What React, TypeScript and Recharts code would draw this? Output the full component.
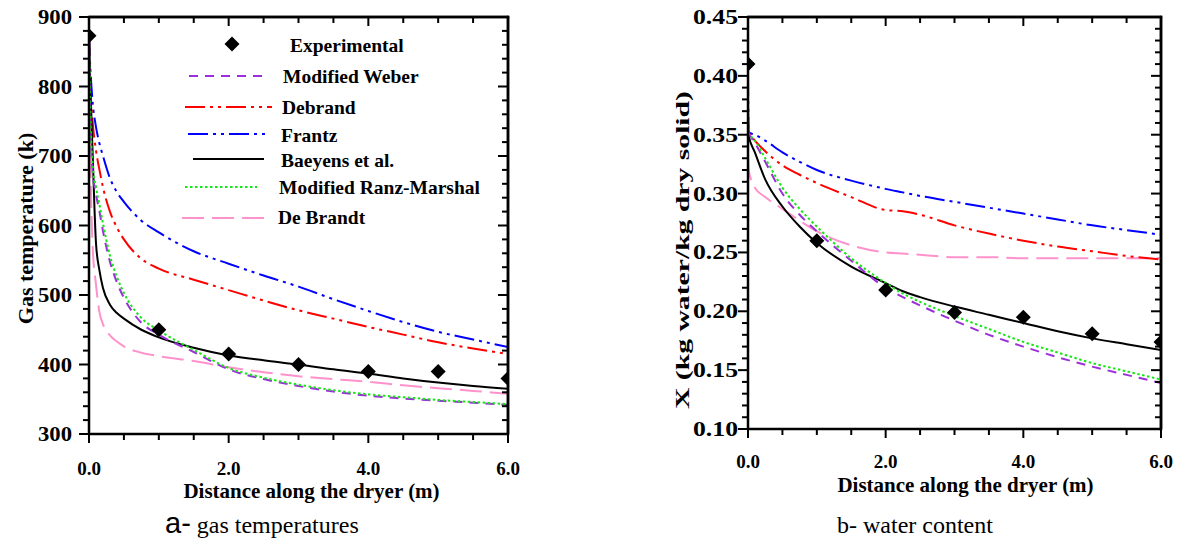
import React from 'react';
import { ComposedChart, Line, Scatter, XAxis, YAxis, Legend, Label } from 'recharts';

const SERIF = '"Liberation Serif", "Times New Roman", Times, serif';
const SANS = '"Liberation Sans", Arial, sans-serif';

// ---------- Panel a: gas temperature (K) ----------
const gasDistance = [0, 0.02, 0.05, 0.1, 0.15, 0.2, 0.3, 0.4, 0.5, 0.75, 1, 1.5, 2, 2.5, 3, 3.5, 4, 4.5, 5, 5.5, 6];
const gasWeber = [873, 750, 680, 645, 620, 592, 548, 518, 496, 460, 443, 418, 393, 379, 369, 361, 355, 351, 348, 345, 342];
const gasDebrand = [873, 800, 752, 708, 680, 655, 620, 597, 580, 552, 538, 522, 507, 492, 478, 466, 454, 443, 432, 423, 415];
const gasFrantz = [873, 825, 780, 742, 718, 700, 668, 648, 634, 607, 590, 563, 545, 528, 512, 494, 477, 461, 447, 436, 425];
const gasBaeyens = [873, 800, 710, 575, 535, 510, 486, 474, 466, 450, 439, 424, 413, 406, 400, 393, 387, 380, 374, 369, 365];
const gasRanz = [873, 760, 690, 655, 630, 603, 557, 526, 503, 467, 449, 421, 395, 381, 371, 363, 357, 353, 349, 346, 343];
const gasBrandt = [873, 700, 575, 515, 475, 458, 442, 433, 426, 417, 412, 405, 396, 389, 383, 379, 375, 370, 366, 362, 358];

const expDistance = [0, 1, 2, 3, 4, 5, 6];
const gasExperimental = [873, 450, 415, 400, 390, 390, 380];

// ---------- Panel b: water content X (kg water / kg dry solid) ----------
const waterDistance = [0, 0.01, 0.1, 0.25, 0.5, 0.75, 1, 1.5, 2, 2.25, 2.5, 3, 3.5, 4, 4.5, 5, 5.5, 6];
const waterWeber = [0.352, 0.351, 0.343, 0.327, 0.300, 0.282, 0.268, 0.243, 0.220, 0.212, 0.205, 0.192, 0.180, 0.170, 0.161, 0.153, 0.146, 0.139];
const waterDebrand = [0.38, 0.352, 0.345, 0.336, 0.324, 0.316, 0.309, 0.297, 0.286, 0.285, 0.282, 0.273, 0.266, 0.260, 0.255, 0.251, 0.247, 0.244];
const waterFrantz = [0.40, 0.352, 0.350, 0.345, 0.335, 0.327, 0.320, 0.311, 0.304, 0.301, 0.298, 0.293, 0.288, 0.283, 0.278, 0.273, 0.269, 0.265];
const waterBaeyens = [0.352, 0.349, 0.335, 0.312, 0.289, 0.272, 0.258, 0.238, 0.224, 0.217, 0.212, 0.204, 0.197, 0.190, 0.183, 0.177, 0.172, 0.167];
const waterRanz = [0.352, 0.351, 0.345, 0.330, 0.305, 0.287, 0.272, 0.245, 0.224, 0.215, 0.208, 0.196, 0.185, 0.174, 0.165, 0.156, 0.149, 0.142];
const waterBrandt = [0.33, 0.32, 0.305, 0.297, 0.287, 0.277, 0.268, 0.256, 0.250, 0.249, 0.248, 0.246, 0.246, 0.245, 0.245, 0.245, 0.245, 0.245];
const waterExperimental = [0.41, 0.26, 0.218, 0.199, 0.195, 0.181, 0.174];

// ---------- Ticks ----------
const distanceTicks = [0, 0.5, 1, 1.5, 2, 2.5, 3, 3.5, 4, 4.5, 5, 5.5, 6];
const distanceLabels = [0, 2, 4, 6];
const gasLabels = [300, 400, 500, 600, 700, 800, 900];
const gasTicks = [300, 320, 340, 360, 380, 400, 420, 440, 460, 480, 500, 520, 540, 560, 580, 600, 620, 640, 660, 680, 700, 720, 740, 760, 780, 800, 820, 840, 860, 880, 900];
const waterLabels = [0.10, 0.15, 0.20, 0.25, 0.30, 0.35, 0.40, 0.45];
const waterTicks = [0.10, 0.11, 0.12, 0.13, 0.14, 0.15, 0.16, 0.17, 0.18, 0.19, 0.20, 0.21, 0.22, 0.23, 0.24, 0.25, 0.26, 0.27, 0.28, 0.29, 0.30, 0.31, 0.32, 0.33, 0.34, 0.35, 0.36, 0.37, 0.38, 0.39, 0.40, 0.41, 0.42, 0.43, 0.44, 0.45];

const SERIES = [
  { key: 'weber', name: 'Modified Weber', color: '#9B30D9', dash: '9 7' },
  { key: 'debrand', name: 'Debrand', color: '#FF0000', dash: '20 5 3 5 3 5' },
  { key: 'frantz', name: 'Frantz', color: '#0000FF', dash: '20 5 3 5 3 5' },
  { key: 'baeyens', name: 'Baeyens et al.', color: '#000000', dash: undefined },
  { key: 'ranz', name: 'Modified Ranz-Marshal', color: '#16E516', dash: '2.5 2.5' },
  { key: 'brandt', name: 'De Brandt', color: '#FF92CC', dash: '22 8' },
];
const DRAW_ORDER = ['brandt', 'frantz', 'debrand', 'baeyens', 'weber', 'ranz'];

const gasRows = gasDistance.map((x, i) => ({
  x, weber: gasWeber[i], debrand: gasDebrand[i], frantz: gasFrantz[i],
  baeyens: gasBaeyens[i], ranz: gasRanz[i], brandt: gasBrandt[i],
}));
const waterRows = waterDistance.map((x, i) => ({
  x, weber: waterWeber[i], debrand: waterDebrand[i], frantz: waterFrantz[i],
  baeyens: waterBaeyens[i], ranz: waterRanz[i], brandt: waterBrandt[i],
}));
const gasExpRows = expDistance.map((x, i) => ({ x, y: gasExperimental[i] }));
const waterExpRows = expDistance.map((x, i) => ({ x, y: waterExperimental[i] }));

const isIn = (arr: number[], v: number) => arr.some((m) => Math.abs(m - v) < 1e-6);

type LabelOpts = { side: 'bottom' | 'left'; labels: number[]; fmt: (v: number) => string; gap: number; fontSize: number; textLength?: number };
const makeTick = (o: LabelOpts) => (p: any) => {
  const x = Number(p.x);
  const y = Number(p.y);
  const v = p.payload.value;
  if (!isIn(o.labels, v)) return <g />;
  if (o.side === 'bottom') {
    return (
      <text x={x} y={y + o.gap} textAnchor="middle" dominantBaseline="central"
        fontFamily={SERIF} fontWeight="bold" fontSize={o.fontSize} fill="#000">{o.fmt(v)}</text>
    );
  }
  return (
    <text x={x - o.gap} y={y} textAnchor="end" dominantBaseline="central"
      fontFamily={SERIF} fontWeight="bold" fontSize={o.fontSize} fill="#000"
      textLength={o.textLength} lengthAdjust="spacingAndGlyphs">{o.fmt(v)}</text>
  );
};

type FrameProps = {
  x0: number; x1: number; y0: number; y1: number;
  xDomain: number[]; yDomain: number[];
  xTicks: number[]; xMajors: number[]; yTicks: number[]; yMajors: number[];
};
// Frame and tick marks (all four sides) as filled polygons
const FrameMarks = (f: FrameProps) => {
  const sx = (v: number) => f.x0 + ((v - f.xDomain[0]) / (f.xDomain[1] - f.xDomain[0])) * (f.x1 - f.x0);
  const sy = (v: number) => f.y1 - ((v - f.yDomain[0]) / (f.yDomain[1] - f.yDomain[0])) * (f.y1 - f.y0);
  const out: React.ReactNode[] = [];
  const box = (key: string, l: number, t: number, r: number, b: number) =>
    out.push(<polygon key={key} points={`${l},${t} ${r},${t} ${r},${b} ${l},${b}`} fill="#000" />);
  box('top', f.x0 - 1.25, f.y0 - 1.25, f.x1 + 1.25, f.y0 + 1.25);
  box('right', f.x1 - 1.25, f.y0 - 1.25, f.x1 + 1.25, f.y1 + 1.25);
  f.xTicks.forEach((t, i) => {
    const len = isIn(f.xMajors, t) ? 9 : 6;
    const px = sx(t);
    box(`xb${i}`, px - 1, f.y1, px + 1, f.y1 + len);
    box(`xt${i}`, px - 1, f.y0, px + 1, f.y0 + len);
  });
  f.yTicks.forEach((t, i) => {
    const len = isIn(f.yMajors, t) ? 10 : 6;
    const py = sy(t);
    box(`yl${i}`, f.x0 - len, py - 1, f.x0, py + 1);
    box(`yr${i}`, f.x1 - len, py - 1, f.x1, py + 1);
  });
  return <g>{out}</g>;
};

const Diamond = (p: any) => {
  const { cx, cy } = p;
  if (cx == null || cy == null) return null;
  const r = 7.5;
  return <polygon points={`${cx},${cy - r} ${cx + r},${cy} ${cx},${cy + r} ${cx - r},${cy}`} fill="#000" />;
};

const LEGEND_ROWS = [
  { key: 'exp', y: 44, x1: 232, x2: 232, tx: 290, ty: 45 },
  { key: 'weber', y: 76, x1: 189, x2: 268, tx: 283, ty: 76 },
  { key: 'debrand', y: 107, x1: 185, x2: 272, tx: 282, ty: 107 },
  { key: 'frantz', y: 134, x1: 188, x2: 265, tx: 281, ty: 135 },
  { key: 'baeyens', y: 159, x1: 193, x2: 264, tx: 281, ty: 160 },
  { key: 'ranz', y: 187, x1: 185, x2: 257, tx: 279, ty: 187 },
  { key: 'brandt', y: 218, x1: 182, x2: 269, tx: 278, ty: 217 },
];

const GAS_BOX = { left: 0, w: 540, h: 510, top: 17, right: 32, yAxisW: 89, xAxisH: 76 };
const WAT_BOX = { left: 590, w: 589, h: 510, top: 17, right: 18, yAxisW: 158, xAxisH: 81 };

const localFrame = (b: any) => ({
  x0: b.yAxisW,
  x1: b.w - b.right,
  y0: b.top,
  y1: b.h - b.xAxisH,
});

const Overlay = (props: { box: any; yDomain: number[]; yTicks: number[]; yMajors: number[]; withKey: boolean }) => {
  const b = props.box;
  const f = localFrame(b);
  return (
    <svg width={b.w} height={b.h} style={{ position: 'absolute', left: 0, top: 0, overflow: 'visible' }}>
      <FrameMarks {...f} xDomain={[0, 6]} yDomain={props.yDomain} xTicks={distanceTicks} xMajors={distanceLabels}
        yTicks={props.yTicks} yMajors={props.yMajors} />
      {props.withKey
        ? LEGEND_ROWS.map((r) => {
            const s = SERIES.find((q) => q.key === r.key);
            const label = s ? s.name : 'Experimental';
            return (
              <g key={r.key}>
                {s ? (
                  <line x1={r.x1} x2={r.x2} y1={r.y} y2={r.y} stroke={s.color} strokeWidth={2}
                    strokeDasharray={s.dash} />
                ) : (
                  <Diamond cx={r.x1} cy={r.y} />
                )}
                <text x={r.tx} y={r.ty} dominantBaseline="central" fontFamily={SERIF} fontWeight="bold"
                  fontSize={19.5} fill="#000">{label}</text>
              </g>
            );
          })
        : null}
    </svg>
  );
};

const axisLine = { stroke: '#000', strokeWidth: 2.5 };
const tickLine = { stroke: '#000', strokeWidth: 2 };

const renderLines = () =>
  DRAW_ORDER.map((k) => {
    const s = SERIES.find((q) => q.key === k)!;
    return (
      <Line key={k} xAxisId="b" yAxisId="l" dataKey={k} name={s.name} type="monotone"
        stroke={s.color} strokeWidth={2} strokeDasharray={s.dash} dot={false}
        activeDot={false} isAnimationActive={false} />
    );
  });

const mirrorAxes = (yDomain: number[], yTicks: number[]) => [
  <XAxis key="xt" xAxisId="t" orientation="top" mirror dataKey="x" type="number" domain={[0, 6]}
    allowDataOverflow ticks={distanceTicks} interval={0} height={1} tickSize={5} tick={false}
    tickLine={tickLine} axisLine={axisLine} />,
  <YAxis key="yr" yAxisId="r" orientation="right" mirror type="number" domain={yDomain}
    allowDataOverflow ticks={yTicks} interval={0} width={1} tickSize={5} tick={false}
    tickLine={tickLine} axisLine={axisLine} />,
  <Line key="frame-anchor" xAxisId="t" yAxisId="r" dataKey="baeyens" stroke="none" strokeWidth={0}
    dot={false} activeDot={false} legendType="none" isAnimationActive={false} />,
];

const xTitle = (dx: number, dy: number) => (p: any) => {
  const vb = p.viewBox || {};
  return (
    <text x={vb.x + vb.width / 2 + dx} y={vb.y + dy} textAnchor="middle" dominantBaseline="central"
      fontFamily={SERIF} fontWeight="bold" fontSize={21} fill="#000">
      Distance along the dryer (m)
    </text>
  );
};

const yTitle = (text: string, cxRel: number, dyCenter: number, fontSize: number, textLength?: number) => (p: any) => {
  const vb = p.viewBox || {};
  const cx = vb.x + cxRel;
  const cy = vb.y + vb.height / 2 + dyCenter;
  return (
    <text x={cx} y={cy} transform={`rotate(-90 ${cx} ${cy})`} textAnchor="middle" dominantBaseline="central"
      fontFamily={SERIF} fontWeight="bold" fontSize={fontSize} fill="#000"
      textLength={textLength} lengthAdjust={textLength ? 'spacingAndGlyphs' : undefined}>
      {text}
    </text>
  );
};

const fmt1 = (v: number) => v.toFixed(1);
const fmt2 = (v: number) => v.toFixed(2);
const fmt0 = (v: number) => String(v);

function GasChart() {
  const b = GAS_BOX;
  return (
    <ComposedChart width={b.w} height={b.h} data={gasRows}
      margin={{ top: b.top, right: b.right, bottom: 0, left: 0 }}>
      <XAxis xAxisId="b" dataKey="x" type="number" domain={[0, 6]} allowDataOverflow ticks={distanceTicks}
        interval={0} height={b.xAxisH} tickSize={0} tickMargin={0} tickLine={false} axisLine={axisLine}
        tick={makeTick({ side: 'bottom', labels: distanceLabels, fmt: fmt1, gap: 34, fontSize: 19 })}>
        <Label content={xTitle(13, 57)} />
      </XAxis>
      <YAxis yAxisId="l" type="number" domain={[300, 900]} allowDataOverflow ticks={gasTicks} interval={0}
        width={b.yAxisW} tickSize={0} tickMargin={0} tickLine={false} axisLine={axisLine}
        tick={makeTick({ side: 'left', labels: gasLabels, fmt: fmt0, gap: 17, fontSize: 20, textLength: 34 })}>
        <Label content={yTitle('Gas temperature (k)', 25, 3, 22)} />
      </YAxis>
      {mirrorAxes([300, 900], gasTicks)}
      {renderLines()}
      <Scatter xAxisId="b" yAxisId="l" data={gasExpRows} dataKey="y" name="Experimental"
        shape={Diamond} isAnimationActive={false} />
      <Legend layout="horizontal" verticalAlign="middle" align="center"
        wrapperStyle={{ left: 0, top: 0, width: b.w, height: b.h }}
        content={() => <Overlay box={b} yDomain={[300, 900]} yTicks={gasTicks} yMajors={gasLabels} withKey />} />
    </ComposedChart>
  );
}

function WaterChart() {
  const b = WAT_BOX;
  return (
    <ComposedChart width={b.w} height={b.h} data={waterRows}
      margin={{ top: b.top, right: b.right, bottom: 0, left: 0 }}>
      <XAxis xAxisId="b" dataKey="x" type="number" domain={[0, 6]} allowDataOverflow ticks={distanceTicks}
        interval={0} height={b.xAxisH} tickSize={0} tickMargin={0} tickLine={false} axisLine={axisLine}
        tick={makeTick({ side: 'bottom', labels: distanceLabels, fmt: fmt1, gap: 32, fontSize: 19 })}>
        <Label content={xTitle(11, 56)} />
      </XAxis>
      <YAxis yAxisId="l" type="number" domain={[0.1, 0.45]} allowDataOverflow ticks={waterTicks} interval={0}
        width={b.yAxisW} tickSize={0} tickMargin={0} tickLine={false} axisLine={axisLine}
        tick={makeTick({ side: 'left', labels: waterLabels, fmt: fmt2, gap: 10, fontSize: 20, textLength: 45 })}>
        <Label content={yTitle('X (kg water/kg dry solid)', 92, 27, 19, 318)} />
      </YAxis>
      {mirrorAxes([0.1, 0.45], waterTicks)}
      {renderLines()}
      <Scatter xAxisId="b" yAxisId="l" data={waterExpRows} dataKey="y" name="Experimental"
        shape={Diamond} isAnimationActive={false} />
      <Legend layout="horizontal" verticalAlign="middle" align="center"
        wrapperStyle={{ left: 0, top: 0, width: b.w, height: b.h }}
        content={() => <Overlay box={b} yDomain={[0.1, 0.45]} yTicks={waterTicks} yMajors={waterLabels} withKey={false} />} />
    </ComposedChart>
  );
}

export default function App() {
  return (
    <div style={{ position: 'absolute', left: 0, top: 0, width: 1179, height: 543, background: '#fff', overflow: 'hidden' }}>
      <div style={{ position: 'absolute', left: GAS_BOX.left, top: 0 }}>
        <GasChart />
      </div>
      <div style={{ position: 'absolute', left: WAT_BOX.left, top: 0 }}>
        <WaterChart />
      </div>
      <svg width={1179} height={543} style={{ position: 'absolute', left: 0, top: 0, pointerEvents: 'none' }}>
        <text x={165} y={533} fill="#000">
          <tspan fontFamily={SANS} fontSize={29}>a-</tspan>
          <tspan fontFamily={SERIF} fontSize={24} dx={6}>gas temperatures</tspan>
        </text>
        <text x={837} y={533} fill="#000" fontFamily={SERIF} fontSize={24}>b- water content</text>
      </svg>
    </div>
  );
}
